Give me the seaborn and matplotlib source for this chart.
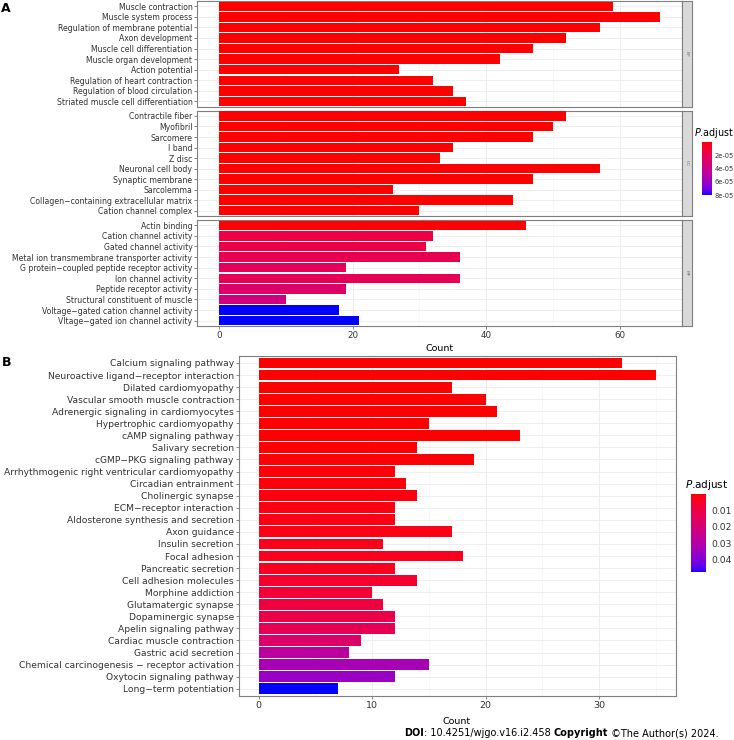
import matplotlib
matplotlib.use('Agg')
import numpy as np
import pandas as pd
import matplotlib.pyplot as plt
import seaborn as sns
from matplotlib.colors import ListedColormap, Normalize
from matplotlib.cm import ScalarMappable


# ---- GO enrichment (panel A) ----
bp_terms = ["Muscle contraction", "Muscle system process", "Regulation of membrane potential",
            "Axon development", "Muscle cell differentiation", "Muscle organ development",
            "Action potential", "Regulation of heart contraction", "Regulation of blood circulation",
            "Striated muscle cell differentiation"]
bp_count = [59, 66, 57, 52, 47, 42, 27, 32, 35, 37]
bp_padj = [1e-12, 1e-12, 2e-12, 5e-12, 1e-11, 3e-11, 6e-11, 8e-11, 1e-10, 2e-10]

cc_terms = ["Contractile fiber", "Myofibril", "Sarcomere", "I band", "Z disc", "Neuronal cell body",
            "Synaptic membrane", "Sarcolemma", "Collagen\u2212containing extracellular matrix",
            "Cation channel complex"]
cc_count = [52, 50, 47, 35, 33, 57, 47, 26, 44, 30]
cc_padj = [1e-10, 2e-10, 5e-10, 1e-9, 2e-9, 4e-9, 6e-9, 1e-8, 2e-8, 3e-8]

mf_terms = ["Actin binding", "Cation channel activity", "Gated channel activity",
            "Metal ion transmembrane transporter activity",
            "G protein\u2212coupled peptide receptor activity", "Ion channel activity",
            "Peptide receptor activity", "Structural constituent of muscle",
            "Voltage\u2212gated cation channel activity", "Vltage\u2212gated ion channel activity"]
mf_count = [46, 32, 31, 36, 19, 36, 19, 10, 18, 21]
mf_padj = [1e-7, 1.6e-5, 1.7e-5, 2.0e-5, 2.3e-5, 2.2e-5, 2.8e-5, 3.7e-5, 8.0e-5, 8.05e-5]

# ---- KEGG enrichment (panel B) ----
kegg_terms = ["Calcium signaling pathway", "Neuroactive ligand\u2212receptor interaction",
              "Dilated cardiomyopathy", "Vascular smooth muscle contraction",
              "Adrenergic signaling in cardiomyocytes", "Hypertrophic cardiomyopathy",
              "cAMP signaling pathway", "Salivary secretion", "cGMP\u2212PKG signaling pathway",
              "Arrhythmogenic right ventricular cardiomyopathy", "Circadian entrainment",
              "Cholinergic synapse", "ECM\u2212receptor interaction",
              "Aldosterone synthesis and secretion", "Axon guidance", "Insulin secretion",
              "Focal adhesion", "Pancreatic secretion", "Cell adhesion molecules",
              "Morphine addiction", "Glutamatergic synapse", "Dopaminergic synapse",
              "Apelin signaling pathway", "Cardiac muscle contraction", "Gastric acid secretion",
              "Chemical carcinogenesis \u2212 receptor activation", "Oxytocin signaling pathway",
              "Long\u2212term potentiation"]
kegg_count = [32, 35, 17, 20, 21, 15, 23, 14, 19, 12, 13, 14, 12, 12, 17, 11, 18, 12, 14, 10,
              11, 12, 12, 9, 8, 15, 12, 7]
kegg_padj = [1e-8, 1e-7, 1e-5, 2e-5, 3e-5, 1e-4, 2e-4, 3e-4, 5e-4, 6e-4, 1e-3, 1.2e-3, 1.5e-3,
             1.8e-3, 2e-3, 2.5e-3, 2.8e-3, 3.5e-3, 5.5e-3, 7e-3, 8.5e-3, 1.05e-2, 1.3e-2,
             1.7e-2, 2.8e-2, 3.3e-2, 3.6e-2, 0.0476]


def srgb_to_lab(rgb):
    rgb = np.asarray(rgb, float)
    lin = np.where(rgb <= 0.04045, rgb / 12.92, ((rgb + 0.055) / 1.055) ** 2.4)
    m = np.array([[0.4124, 0.3576, 0.1805], [0.2126, 0.7152, 0.0722], [0.0193, 0.1192, 0.9505]])
    xyz = m @ lin / np.array([0.95047, 1.0, 1.08883])
    f = np.where(xyz > 0.008856, np.cbrt(xyz), 7.787 * xyz + 16 / 116)
    return np.array([116 * f[1] - 16, 500 * (f[0] - f[1]), 200 * (f[1] - f[2])])


def lab_to_srgb(lab):
    L, a, b = lab
    fy = (L + 16) / 116
    fx = fy + a / 500
    fz = fy - b / 200
    f = np.array([fx, fy, fz])
    xyz = np.where(f ** 3 > 0.008856, f ** 3, (f - 16 / 116) / 7.787) * np.array([0.95047, 1.0, 1.08883])
    m = np.array([[3.2406, -1.5372, -0.4986], [-0.9689, 1.8758, 0.0415], [0.0557, -0.2040, 1.0570]])
    lin = m @ xyz
    rgb = np.where(lin <= 0.0031308, 12.92 * lin, 1.055 * np.clip(lin, 0, None) ** (1 / 2.4) - 0.055)
    return np.clip(rgb, 0, 1)


# ggplot-like red -> blue gradient interpolated in Lab space
lab_red = srgb_to_lab([1, 0, 0])
lab_blue = srgb_to_lab([0, 0, 1])
grad = [lab_to_srgb(lab_red + (lab_blue - lab_red) * t) for t in np.linspace(0, 1, 256)]
cmap = ListedColormap(grad)

TXT = '#333333'
GRID = '#EBEBEB'
BORDER = '#7F7F7F'
plt.rcParams['font.family'] = ['DejaVu Sans']

W, H = 734, 740
fig = plt.figure(figsize=(W / 100, H / 100), dpi=100)


def fx(px):
    return px / W


def fy(px):
    return 1 - px / H


def draw_bars(ax, terms, counts, padj, norm, ylab_size, xlab_size, pad_rows):
    df = pd.DataFrame({'term': terms, 'count': counts, 'padj': padj})
    pal = {t: cmap(norm(p)) for t, p in zip(df['term'], df['padj'])}
    sns.barplot(data=df, x='count', y='term', hue='term', order=terms, palette=pal,
                saturation=1, width=0.9, dodge=False, legend=False, ax=ax, zorder=3,
                linewidth=0)
    ax.set_ylim(len(terms) - 1 + pad_rows, -pad_rows)
    ax.set_xlabel('')
    ax.set_ylabel('')
    ax.set_facecolor('white')
    ax.grid(True, which='major', color=GRID, linewidth=0.6, zorder=0)
    ax.grid(True, which='minor', axis='x', color='#F4F4F4', linewidth=0.4, zorder=0)
    ax.set_axisbelow(True)
    for s in ax.spines.values():
        s.set_color(BORDER)
        s.set_linewidth(0.8)
    ax.tick_params(axis='y', labelsize=ylab_size, colors=TXT, length=2, width=0.5, pad=1.5,
                   color='#555555')
    ax.tick_params(axis='x', labelsize=xlab_size, colors=TXT, length=2, width=0.5,
                   pad=1.5, color='#555555')


# ---- panel A ----
normA = Normalize(vmin=0, vmax=8.0e-5)
a_left, a_right = 197.3, 681.7
facets = [(bp_terms, bp_count, bp_padj, 'BP', 1, 106.7),
          (cc_terms, cc_count, cc_padj, 'CC', 110.7, 216),
          (mf_terms, mf_count, mf_padj, 'MF', 220, 326)]
for terms, counts, padj, lab, top, bot in facets:
    ax = fig.add_axes([fx(a_left), fy(bot), fx(a_right - a_left), (bot - top) / H])
    draw_bars(ax, terms, counts, padj, normA, 5.55, 6.3, 0.5)
    ax.set_xlim(-3.3, 69.3)
    ax.set_xticks([0, 20, 40, 60])
    ax.set_xticks([10, 30, 50], minor=True)
    ax.tick_params(axis='x', which='minor', length=0)
    if lab != 'MF':
        ax.tick_params(axis='x', labelbottom=False, length=0)
    sax = fig.add_axes([fx(a_right), fy(bot), fx(10.6), (bot - top) / H])
    sax.set_facecolor('#D9D9D9')
    sax.set_xticks([])
    sax.set_yticks([])
    for s in sax.spines.values():
        s.set_color(BORDER)
        s.set_linewidth(0.8)
    sax.text(0.5, 0.5, lab, rotation=-90, ha='center', va='center', fontsize=3.2,
             color='#6A6A6A', transform=sax.transAxes)
fig.text(fx(439.5), fy(348), 'Count', ha='center', va='center', fontsize=6.8, color='black')
fig.text(fx(1), fy(8), 'A', ha='left', va='center', fontsize=9, fontweight='bold')

caxA = fig.add_axes([fx(702), fy(195), fx(9.5), 53.3 / H])
cbA = fig.colorbar(ScalarMappable(norm=normA, cmap=cmap), cax=caxA)
cbA.outline.set_visible(False)
caxA.invert_yaxis()
cbA.set_ticks([2e-5, 4e-5, 6e-5, 8e-5])
cbA.set_ticklabels(['2e-05', '4e-05', '6e-05', '8e-05'])
caxA.tick_params(labelsize=4.75, length=1.5, width=0.4, pad=1, colors=TXT)
caxA.tick_params(color='white')
fig.text(fx(694), fy(133), r'$\it{P}$.adjust', ha='left', va='center', fontsize=6.9,
         color='black')

# ---- panel B ----
normB = Normalize(vmin=0, vmax=0.0476)
b_left, b_right, b_top, b_bot = 238.7, 675.7, 355.7, 696
axB = fig.add_axes([fx(b_left), fy(b_bot), fx(b_right - b_left), (b_bot - b_top) / H])
draw_bars(axB, kegg_terms, kegg_count, kegg_padj, normB, 6.6, 6.8, 0.6)
axB.set_xlim(-1.75, 36.75)
axB.set_xticks([0, 10, 20, 30])
axB.set_xticks([5, 15, 25, 35], minor=True)
axB.tick_params(axis='x', which='minor', length=0)
fig.text(fx(457), fy(721), 'Count', ha='center', va='center', fontsize=6.8, color='black')
fig.text(fx(2), fy(362), 'B', ha='left', va='center', fontsize=9, fontweight='bold')

caxB = fig.add_axes([fx(691), fy(572.3), fx(15), 78.3 / H])
cbB = fig.colorbar(ScalarMappable(norm=normB, cmap=cmap), cax=caxB)
cbB.outline.set_visible(False)
caxB.invert_yaxis()
cbB.set_ticks([0.01, 0.02, 0.03, 0.04])
cbB.set_ticklabels(['0.01', '0.02', '0.03', '0.04'])
caxB.tick_params(labelsize=6.6, length=2.5, width=0.4, pad=1.5, colors=TXT)
caxB.tick_params(color='white')
fig.text(fx(685), fy(485), r'$\it{P}$.adjust', ha='left', va='center', fontsize=7.5,
         color='black')

# ---- footer ----
renderer = fig.canvas.get_renderer()
x = fx(404)
for piece, weight in [('DOI', 'bold'), (': 10.4251/wjgo.v16.i2.458 ', 'normal'),
                      ('Copyright', 'bold'), (' \u00a9The Author(s) 2024.', 'normal')]:
    t = fig.text(x, fy(733), piece, ha='left', va='center', fontsize=7.0, fontweight=weight,
                 color='black')
    bb = t.get_window_extent(renderer)
    x += bb.width / W

fig.savefig('out.png', dpi=100)
plt.close(fig)
